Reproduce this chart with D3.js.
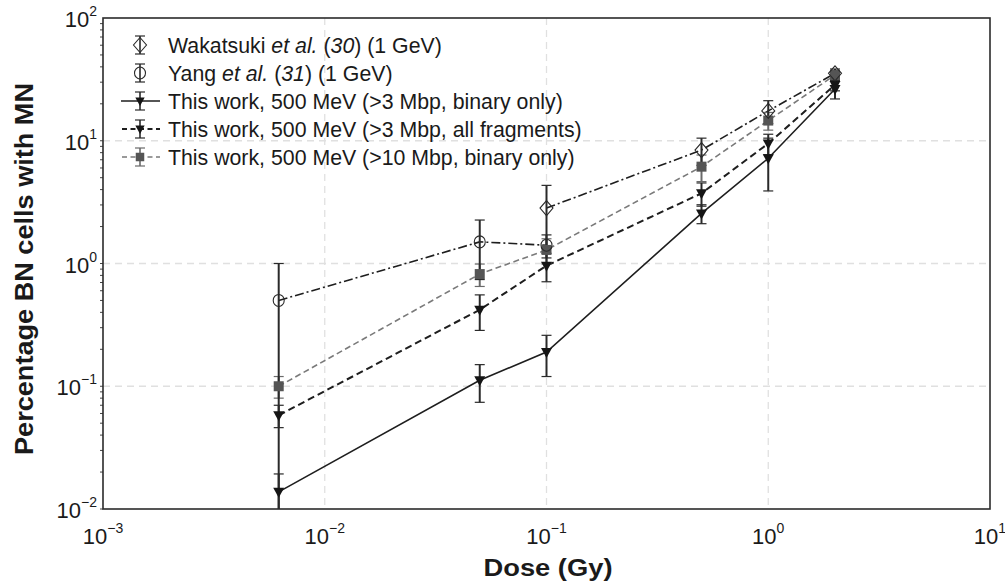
<!DOCTYPE html>
<html>
<head>
<meta charset="utf-8">
<script src="https://cdn.jsdelivr.net/npm/d3@7/dist/d3.min.js"></script>
<style>
  html, body { margin: 0; padding: 0; background: #fff; }
  svg { display: block; font-family: "Liberation Sans", Arial, Helvetica, sans-serif; }
</style>
</head>
<body>
<svg id="chart" width="1005" height="583"></svg>
<script>
// ---------- data ----------
const doses = [0.0062, 0.05, 0.1, 0.5, 1, 2];

const wakatsukiDose = [0.1, 0.5, 1, 2];
const wakatsukiVal  = [2.83, 8.4, 17.5, 35.4];
const wakatsukiErr  = [1.5, 2.1, 3.7, 3.0];

const yangDose = [0.0062, 0.05, 0.1];
const yangVal  = [0.5, 1.5, 1.41];
const yangErr  = [0.5, 0.76, 0.3];

const binary3Val = [0.0138, 0.112, 0.19, 2.56, 7.2, 26.4];
const binary3Err = [0.0055, 0.038, 0.07, 0.45, 3.3, 4.5];

const allFrag3Val = [0.058, 0.42, 0.96, 3.73, 9.5, 28.5];
const allFrag3Err = [0.012, 0.135, 0.25, 0.8, 1.8, 3.0];

const binary10Val = [0.1, 0.82, 1.29, 6.15, 14.6, 34.3];
const binary10Err = [0.02, 0.17, 0.3, 1.5, 2.4, 3.0];

const xTickExps = [-3, -2, -1, 0, 1];
const yTickExps = [-2, -1, 0, 1, 2];

const legendLabels = [
  [["Wakatsuki ", false], ["et al.", true], [" (", false], ["30", true], [") (1 GeV)", false]],
  [["Yang ", false], ["et al.", true], [" (", false], ["31", true], [") (1 GeV)", false]],
  [["This work, 500 MeV (>3 Mbp, binary only)", false]],
  [["This work, 500 MeV (>3 Mbp, all fragments)", false]],
  [["This work, 500 MeV (>10 Mbp, binary only)", false]]
];

// ---------- layout ----------
const svg = d3.select("#chart");
const L = 103, R = 990, T = 18, B = 509;
const x = d3.scaleLog().domain([1e-3, 1e1]).range([L, R]);
const y = d3.scaleLog().domain([1e-2, 1e2]).range([B, T]);

const series = [
  { name: "wak", dose: wakatsukiDose, val: wakatsukiVal, err: wakatsukiErr,
    stroke: "#1e1e1e", width: 1.6, dash: "9,3,2,3", marker: "diamond", ebColor: "#2a2a2a" },
  { name: "yang", dose: yangDose, val: yangVal, err: yangErr,
    stroke: "#1e1e1e", width: 1.6, dash: "9,3,2,3", marker: "circle", ebColor: "#2a2a2a" },
  { name: "b3", dose: doses, val: binary3Val, err: binary3Err,
    stroke: "#1e1e1e", width: 1.6, dash: null, marker: "tri", ebColor: "#2a2a2a" },
  { name: "a3", dose: doses, val: allFrag3Val, err: allFrag3Err,
    stroke: "#1e1e1e", width: 2, dash: "7,4", marker: "tri", ebColor: "#2a2a2a" },
  { name: "b10", dose: doses, val: binary10Val, err: binary10Err,
    stroke: "#7a7a7a", width: 1.6, dash: "6,3.5", marker: "square", ebColor: "#6a6a6a" }
];

svg.append("defs").append("clipPath").attr("id", "clip")
  .append("rect").attr("x", L).attr("y", T).attr("width", R - L).attr("height", B - T);

// ---------- grid ----------
const grid = svg.append("g");
xTickExps.slice(1, -1).forEach(e => {
  grid.append("line").attr("x1", x(Math.pow(10, e))).attr("x2", x(Math.pow(10, e)))
    .attr("y1", T).attr("y2", B)
    .attr("stroke", "#e0e0e0").attr("stroke-width", 1.3).attr("stroke-dasharray", "7,5");
});
yTickExps.slice(1, -1).forEach(e => {
  grid.append("line").attr("y1", y(Math.pow(10, e))).attr("y2", y(Math.pow(10, e)))
    .attr("x1", L).attr("x2", R)
    .attr("stroke", "#e0e0e0").attr("stroke-width", 1.3).attr("stroke-dasharray", "7,5");
});

// ---------- minor ticks on y ----------
const ticksG = svg.append("g");
for (let e = -2; e < 2; e++) {
  for (let m = 1; m <= 9; m++) {
    const v = m * Math.pow(10, e);
    ticksG.append("line").attr("x1", L - 3).attr("x2", L)
      .attr("y1", y(v)).attr("y2", y(v))
      .attr("stroke", "#444").attr("stroke-width", 1);
  }
}

// ---------- marker drawing ----------
function drawMarker(g, type, cx, cy, s) {
  s = s || 1;
  if (type === "diamond") {
    g.append("path")
      .attr("d", `M${cx},${cy - 7.5 * s} L${cx + 6.5 * s},${cy} L${cx},${cy + 7.5 * s} L${cx - 6.5 * s},${cy} Z`)
      .attr("fill", "none").attr("stroke", "#2a2a2a").attr("stroke-width", 1.1);
  } else if (type === "circle") {
    g.append("ellipse").attr("cx", cx).attr("cy", cy).attr("rx", 5.5 * s).attr("ry", 6 * s)
      .attr("fill", "none").attr("stroke", "#2a2a2a").attr("stroke-width", 1.1);
  } else if (type === "tri") {
    g.append("path")
      .attr("d", `M${cx - 5.5 * s},${cy - 4 * s} L${cx + 5.5 * s},${cy - 4 * s} L${cx},${cy + 6 * s} Z`)
      .attr("fill", "#151515");
  } else if (type === "square") {
    g.append("rect").attr("x", cx - 5 * s).attr("y", cy - 5 * s)
      .attr("width", 10 * s).attr("height", 10 * s).attr("fill", "#555");
  }
}

// ---------- series ----------
const plot = svg.append("g").attr("clip-path", "url(#clip)");
const drawOrder = [4, 3, 2, 1, 0];
drawOrder.forEach(i => {
  const s = series[i];
  const pts = s.dose.map((d, k) => [x(d), y(s.val[k])]);
  const line = plot.append("path")
    .attr("d", d3.line()(pts))
    .attr("fill", "none").attr("stroke", s.stroke).attr("stroke-width", s.width);
  if (s.dash) line.attr("stroke-dasharray", s.dash);
});
drawOrder.forEach(i => {
  const s = series[i];
  s.dose.forEach((d, k) => {
    const cx = x(d);
    const lo = Math.max(s.val[k] - s.err[k], 1e-4);
    const hi = s.val[k] + s.err[k];
    const y1 = y(hi), y2 = y(lo);
    plot.append("line").attr("x1", cx).attr("x2", cx).attr("y1", y1).attr("y2", Math.min(y2, B + 20))
      .attr("stroke", s.ebColor).attr("stroke-width", 2);
    [y1, y2].forEach(yy => {
      plot.append("line").attr("x1", cx - 5).attr("x2", cx + 5).attr("y1", yy).attr("y2", yy)
        .attr("stroke", s.ebColor).attr("stroke-width", 1.2);
    });
  });
});
drawOrder.forEach(i => {
  const s = series[i];
  s.dose.forEach((d, k) => drawMarker(plot, s.marker, x(d), y(s.val[k])));
});

// ---------- frame ----------
svg.append("rect").attr("x", L).attr("y", T).attr("width", R - L).attr("height", B - T)
  .attr("fill", "none").attr("stroke", "#2b2b2b").attr("stroke-width", 1.6);

// ---------- tick labels ----------
const fs = 22, fsExp = 14;
xTickExps.forEach(e => {
  const t = svg.append("text").attr("y", 544).attr("font-size", fs).attr("fill", "#1a1a1a")
    .attr("text-anchor", "middle").attr("x", x(Math.pow(10, e)));
  t.append("tspan").text("10");
  t.append("tspan").attr("font-size", fsExp).attr("dy", -11).text(e < 0 ? "\u2212" + (-e) : String(e));
});
yTickExps.forEach(e => {
  const t = svg.append("text").attr("y", y(Math.pow(10, e)) + 9).attr("font-size", fs).attr("fill", "#1a1a1a")
    .attr("text-anchor", "end").attr("x", 97);
  t.append("tspan").text("10");
  t.append("tspan").attr("font-size", fsExp).attr("dy", -11).text(e < 0 ? "\u2212" + (-e) : String(e));
});

// ---------- axis titles ----------
svg.append("text").attr("x", 548).attr("y", 576).attr("text-anchor", "middle")
  .attr("font-size", 23).attr("font-weight", "bold").attr("fill", "#1a1a1a")
  .attr("textLength", 129).attr("lengthAdjust", "spacingAndGlyphs")
  .text("Dose (Gy)");
svg.append("text").attr("transform", "translate(33,269) rotate(-90)").attr("text-anchor", "middle")
  .attr("font-size", 25).attr("font-weight", "bold").attr("fill", "#1a1a1a")
  .attr("textLength", 372).attr("lengthAdjust", "spacingAndGlyphs")
  .text("Percentage BN cells with MN");

// ---------- legend ----------
const legRows = [45, 73, 101, 129, 157];
const lg = svg.append("g");
series.forEach((s, i) => {
  const cy = legRows[i], cx = 140;
  if (i >= 2) {
    const ln = lg.append("line").attr("x1", 121).attr("x2", 160).attr("y1", cy).attr("y2", cy)
      .attr("stroke", s.stroke).attr("stroke-width", s.width);
    if (s.dash) ln.attr("stroke-dasharray", "5,3.5").attr("x1", 122);
  }
  lg.append("line").attr("x1", cx).attr("x2", cx).attr("y1", cy - 9).attr("y2", cy + 9)
    .attr("stroke", s.ebColor).attr("stroke-width", 1.6);
  [cy - 9, cy + 9].forEach(yy => lg.append("line").attr("x1", cx - 5).attr("x2", cx + 5)
    .attr("y1", yy).attr("y2", yy).attr("stroke", s.ebColor).attr("stroke-width", 1.2));
  drawMarker(lg, s.marker, cx, cy, i >= 2 ? 0.85 : 1);
  const t = lg.append("text").attr("x", 168).attr("y", cy + 7.5).attr("font-size", 21.3).attr("fill", "#1a1a1a");
  legendLabels[i].forEach(([txt, it]) => {
    const sp = t.append("tspan").text(txt);
    if (it) sp.attr("font-style", "italic");
  });
});
</script>
</body>
</html>
